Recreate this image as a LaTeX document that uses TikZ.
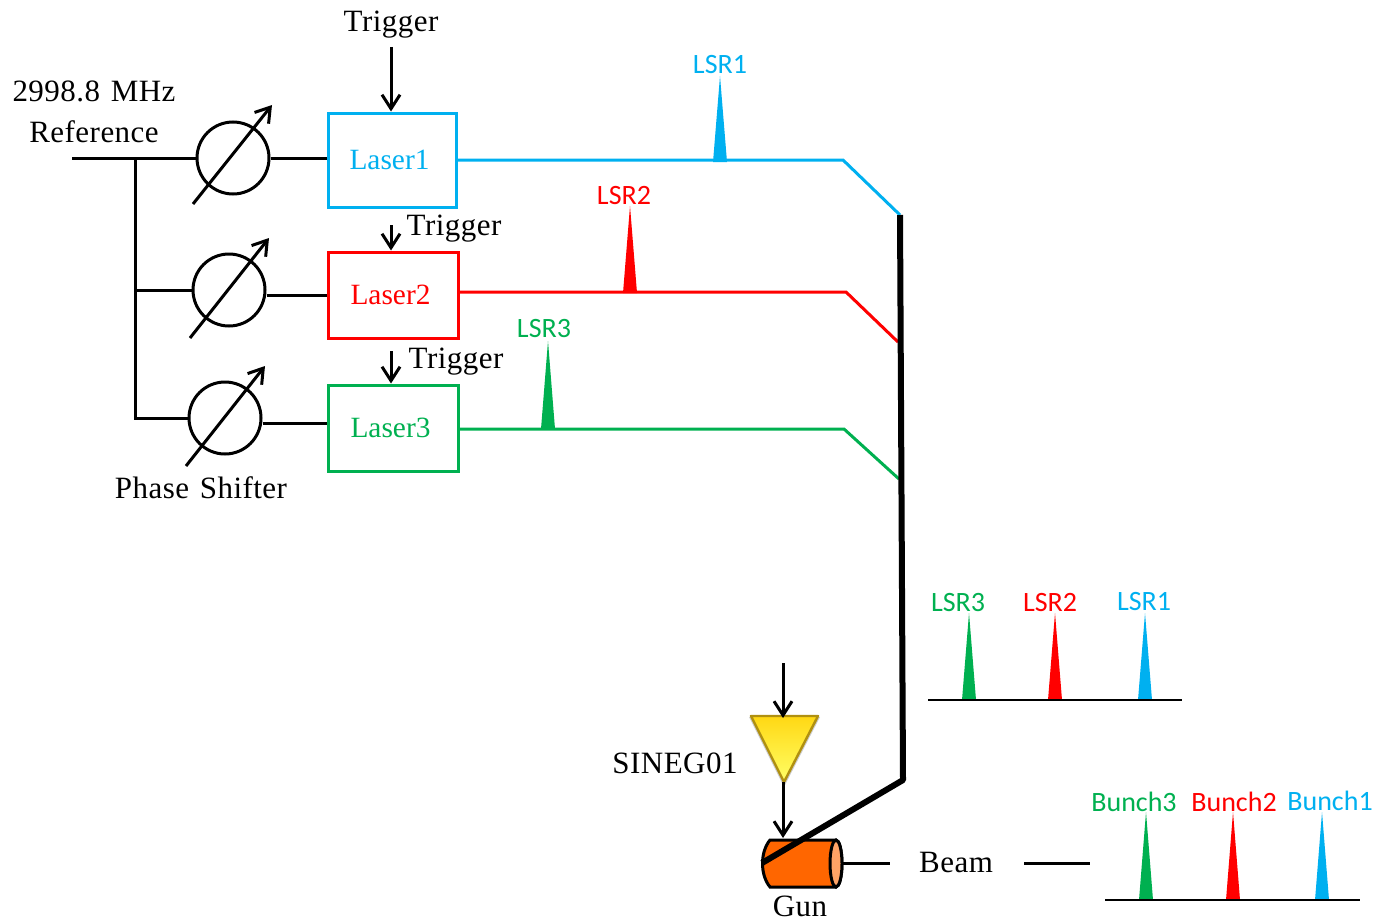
\documentclass[tikz,border=0pt]{standalone}
\usepackage{fontspec}
\setmainfont{Liberation Serif}
\newfontfamily\lblfont{Carlito}
\newfontfamily\txtfont[WordSpace=1.3,LetterSpace=1.5]{Liberation Serif}
\usetikzlibrary{arrows.meta}
\definecolor{cblue}{RGB}{0,176,240}
\definecolor{cred}{RGB}{255,0,0}
\definecolor{cgreen}{RGB}{0,176,80}
\definecolor{cgun}{RGB}{255,102,0}
\definecolor{ccap}{RGB}{255,163,102}
\definecolor{camp}{RGB}{176,144,16}
\definecolor{camptop}{RGB}{255,216,20}
\definecolor{campbot}{RGB}{255,255,102}
\tikzset{
    layout/.style={x=0.5pt,y=-0.5pt,line width=1.5pt,>={Straight Barb[length=7pt,width=9pt,line width=1.5pt]}},
    txt/.style={font=\txtfont\fontsize{15.5}{18}\selectfont,inner sep=0pt},
    lasertxt/.style={font=\fontsize{14.7}{17}\selectfont,inner sep=0pt,draw,line width=1.5pt,minimum width=64pt},
    lsrtxt/.style={font=\lblfont\fontsize{14}{16}\selectfont,inner sep=0pt},
    shifter/.style={circle,draw,line width=1.5pt,minimum size=36pt,inner sep=0pt},
    feed/.style={line width=1.5pt}
}

\begin{document}
\begin{tikzpicture}[layout]
    \useasboundingbox (0,0) rectangle (1379,920);
    \node[txt] (trigA) at (391,24.5) {Trigger};
    \node[txt] (trigB) at (454,228.5) {Trigger};
    \node[txt] (trigC) at (456,361.5) {Trigger};
    \node[txt] (freq) at (94,91) {2998.8 MHz};
    \node[txt] (refr) at (94,131.5) {Reference};
    \node[txt] (phase) at (201,488) {Phase Shifter};
    \node[txt] (sineg) at (675,763) {SINEG01};
    \node[txt] (beam) at (956,862) {Beam};
    \node[txt] (gunlbl) at (800,906) {Gun};

    \node[lasertxt,cblue,minimum height=47pt] (laserA) at (392,160) {Laser1\kern2.5pt};
    \node[lasertxt,cred,minimum width=65pt,minimum height=43pt] (laserB) at (393,295) {Laser2\kern2.5pt};
    \node[lasertxt,cgreen,minimum width=65pt,minimum height=43pt] (laserC) at (393,428) {Laser3\kern2.5pt};

    \node[shifter] (psA) at (233,158) {};
    \node[shifter] (psB) at (229,290) {};
    \node[shifter] (psC) at (225,418) {};
    \draw[->] (193,204) -- (272,105);
    \draw[->] (190,338) -- (269,238);
    \draw[->] (186,466) -- (265,366);

    \coordinate (refin) at (72,158);
    \coordinate (junA) at (135,158);
    \coordinate (junB) at (135,290);
    \coordinate (junC) at (135,418);
    \draw[feed] (refin) -- (psA.west);
    \draw[feed] (junA) -- (junC) -- (psC.west);
    \draw[feed] (junB) -- (psB.west);
    \draw[feed] (psA.east) -- (psA.east -| laserA.west);
    \draw[feed] (laserB.west -| psB.east) -- (laserB.west);
    \draw[feed] (psC.east |- 0,423) -- (laserC.west |- 0,423);

    \coordinate (trigAin) at (391,47);
    \coordinate (trigBin) at (391,225);
    \coordinate (trigCin) at (391,351);
    \draw[->] (trigAin) -- (laserA.north -| trigAin);
    \draw[->] (trigBin) -- (laserB.north -| trigBin);
    \draw[->] (trigCin) -- (laserC.north -| trigCin);

    \coordinate (bendA) at (843,160);
    \coordinate (bendB) at (846,292);
    \coordinate (bendC) at (844,429);
    \coordinate (mixA) at (900,215);
    \coordinate (mixB) at (898,342);
    \coordinate (mixC) at (899,479);
    \coordinate (mixD) at (903,780);
    \coordinate (gunend) at (762,863);
    \draw[cblue] (laserA.east |- bendA) -- (bendA) -- (mixA);
    \draw[cred] (laserB.east |- bendB) -- (bendB) -- (mixB);
    \draw[cgreen] (laserC.east |- bendC) -- (bendC) -- (mixC);

    \foreach \x/\base/\tip/\col in {720/162/76/cblue,630/293/206/cred,548/429/341/cgreen,
        969/700/613/cgreen,1055/700/613/cred,1145/700/613/cblue,
        1146/900/812/cgreen,1233/900/812/cred,1322/900/812/cblue}
        \fill[\col] ({\x-7},\base) -- (\x,\tip) -- ({\x+7},\base) -- cycle;

    \node[lsrtxt,cblue] (lsrA) at (720,65) {LSR1};
    \node[lsrtxt,cred] (lsrB) at (624,196) {LSR2};
    \node[lsrtxt,cgreen] (lsrC) at (544,329) {LSR3};
    \node[lsrtxt,cgreen] (seqC) at (958,603) {LSR3};
    \node[lsrtxt,cred] (seqB) at (1050,603) {LSR2};
    \node[lsrtxt,cblue] (seqA) at (1144,602) {LSR1};
    \node[lsrtxt,cgreen] (bunchC) at (1134,802) {Bunch3};
    \node[lsrtxt,cred] (bunchB) at (1234,802) {Bunch2};
    \node[lsrtxt,cblue] (bunchA) at (1330,801) {Bunch1};

    \coordinate (seqL) at (928,700);
    \coordinate (seqR) at (1182,700);
    \coordinate (bunL) at (1105,900);
    \coordinate (bunR) at (1360,900);
    \draw[line width=1pt] (seqL) -- (seqR);
    \draw[line width=1pt] (bunL) -- (bunR);

    \coordinate (ampin) at (783,663);
    \coordinate (ampL) at (751,716);
    \coordinate (ampR) at (818,716);
    \coordinate (ampB) at (784,782);
    \coordinate (gunin) at (783,838);
    \fill[black,opacity=0.2] (749,717) -- (820,717) -- (784,787) -- cycle;
    \shade[top color=camptop,bottom color=campbot,draw=camp,line width=1.2pt,line join=round]
        (ampL) -- (ampR) -- (ampB) -- cycle;
    \draw[->] (ampin) -- (783,718);
    \draw[->] (ampB -| gunin) -- (gunin);

    \draw[fill=cgun] (770,840) -- (836,840) arc[start angle=-90,end angle=90,x radius=6,y radius=23.5]
        -- (770,887) .. controls (760,875) and (760,852) .. (770,840) -- cycle;
    \draw[fill=ccap] (836,863.5) ellipse[x radius=6,y radius=23.5];
    \coordinate (gunout) at (842,863);
    \coordinate (beamA) at (890,863);
    \coordinate (beamB) at (1024,863);
    \coordinate (beamC) at (1090,863);
    \draw[feed] (gunout) -- (beamA);
    \draw[feed] (beamB) -- (beamC);

    \draw[line width=3pt,line join=round] (mixA) -- (mixD) -- (gunend);
\end{tikzpicture}
\end{document}
